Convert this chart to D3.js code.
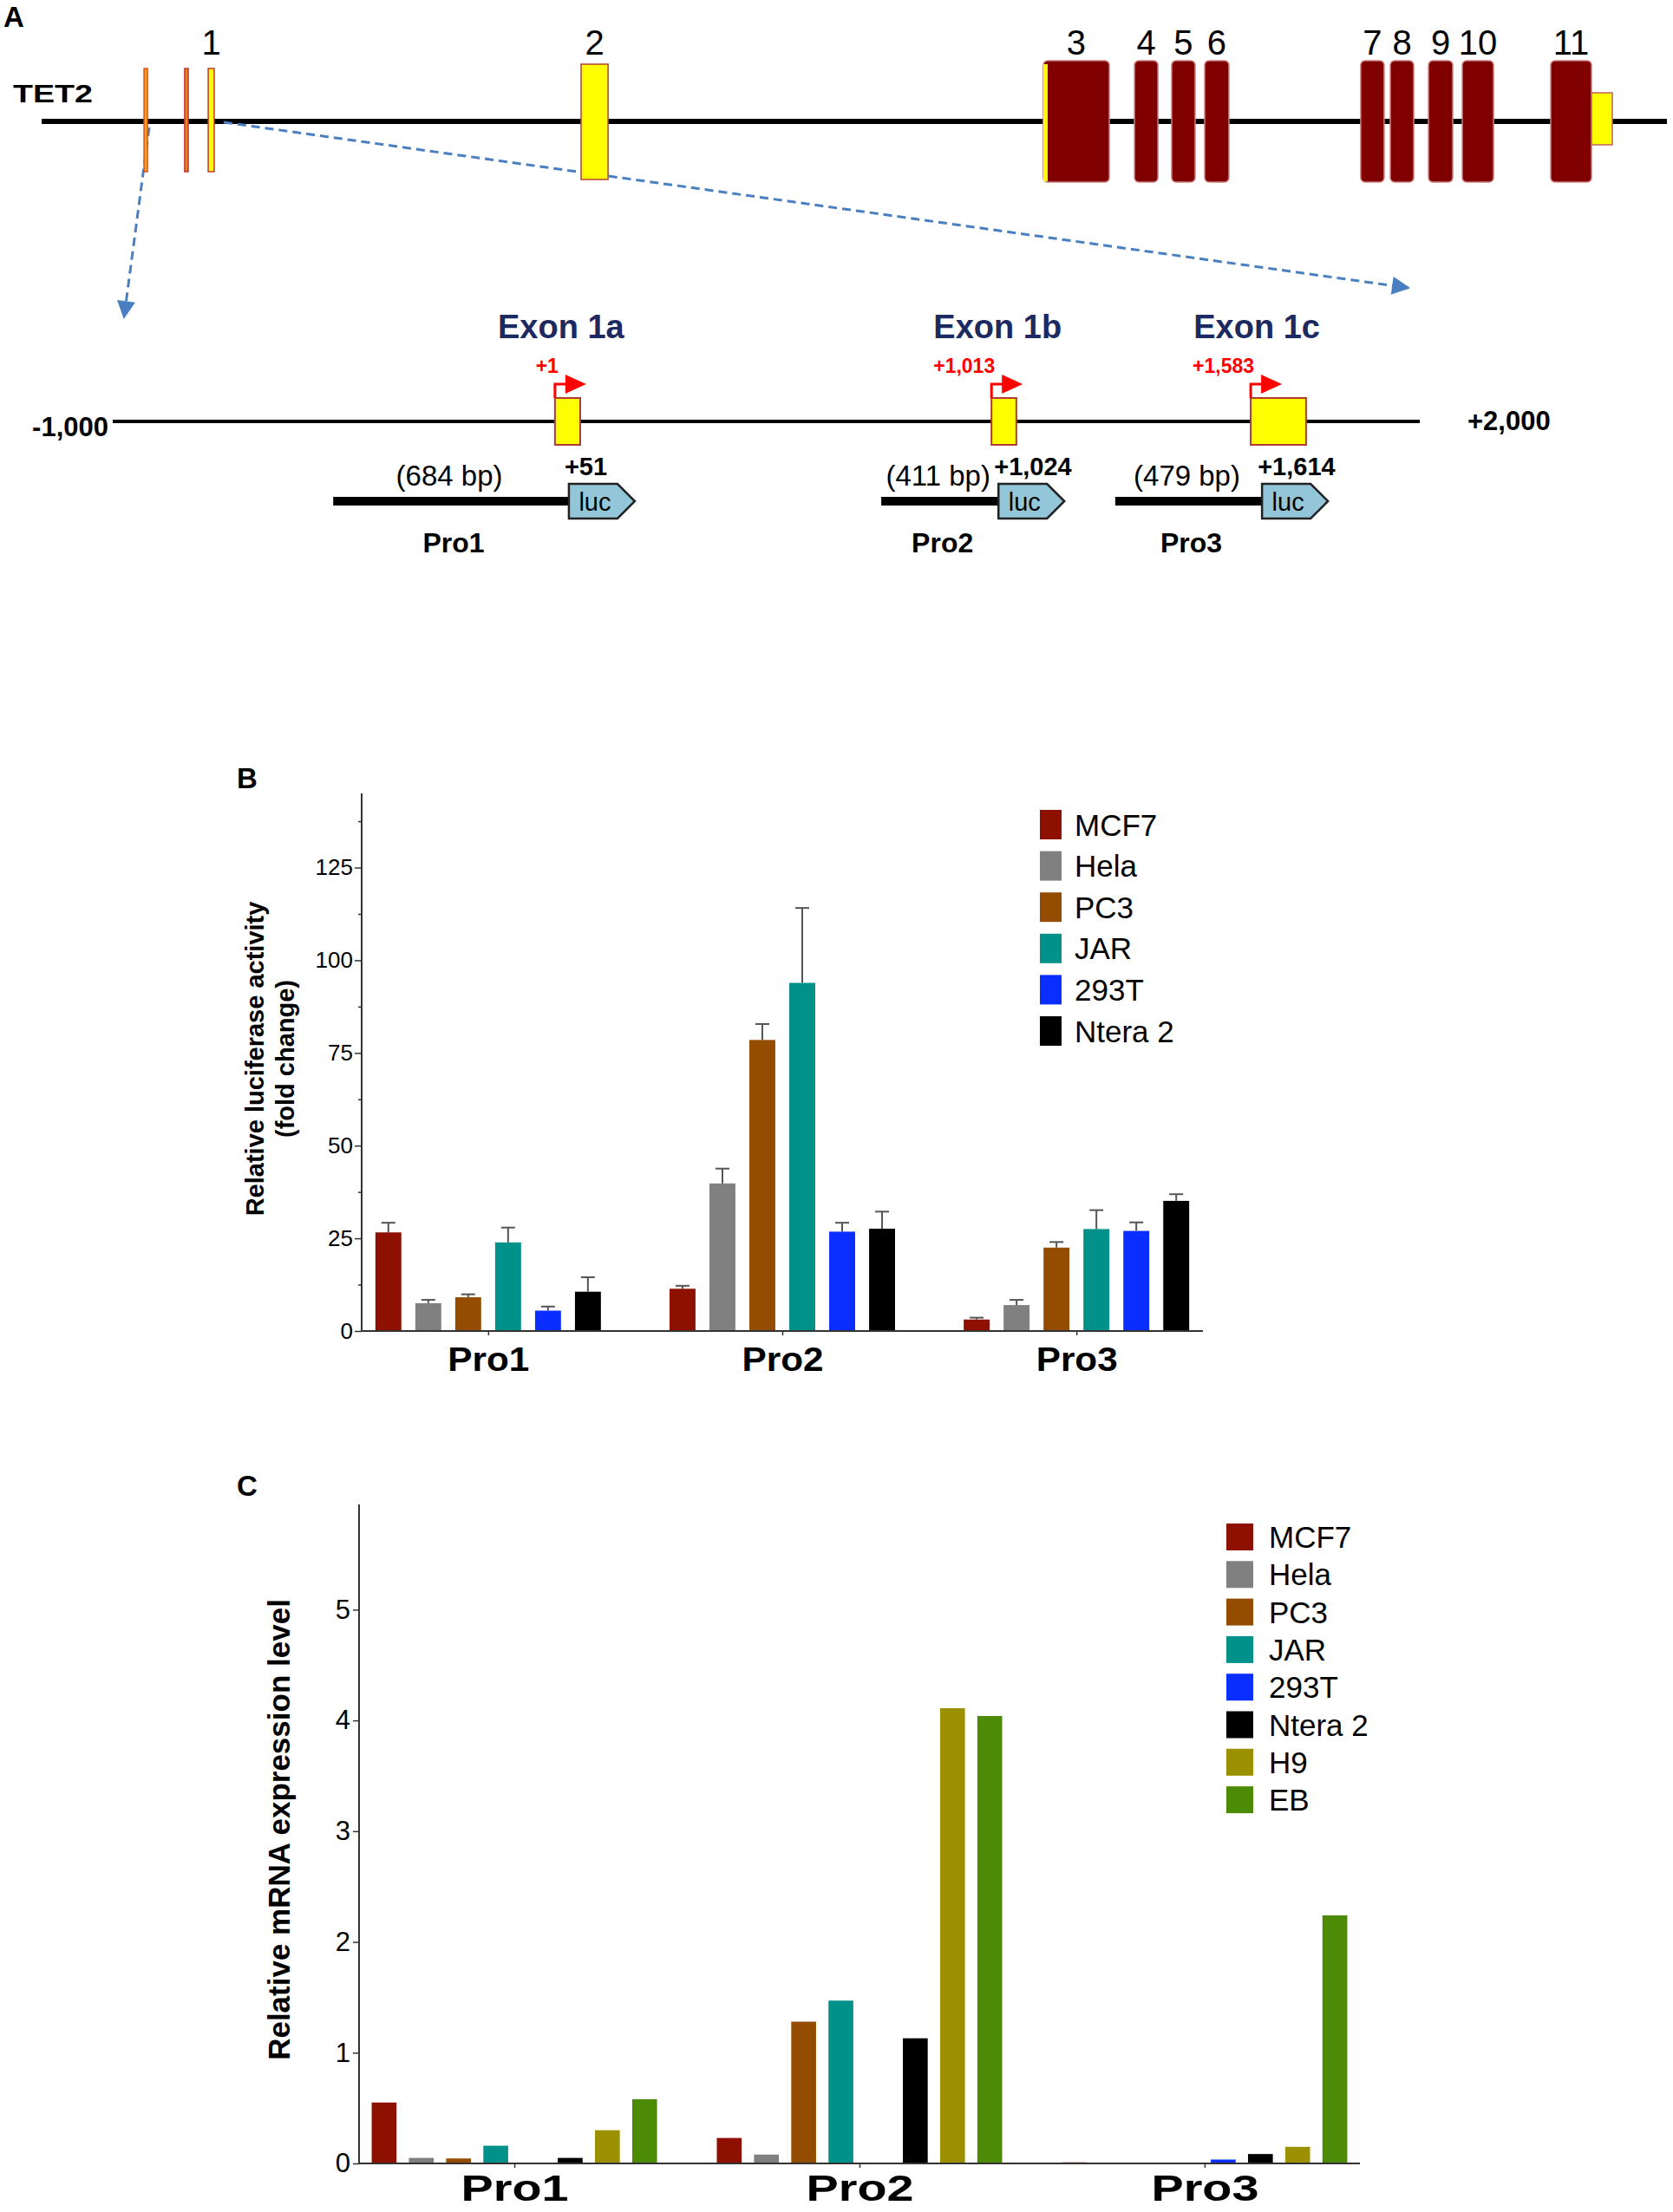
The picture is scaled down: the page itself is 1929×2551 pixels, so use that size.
<!DOCTYPE html>
<html>
<head>
<meta charset="utf-8">
<script src="https://cdn.jsdelivr.net/npm/d3@7"></script>
<style>
  body { margin: 0; background: #fff; }
  svg { display: block; }
  text { font-family: "Liberation Sans", Arial, sans-serif; }
</style>
</head>
<body>
<svg id="fig" width="1929" height="2551"></svg>
<script>
"use strict";

// ---- data ----
// TET2 gene structure, schematic position along the gene (0-100)
// [exon label, start, end, kind]
const geneParts = [
  ["1", 6.30, 6.51, "ex1a"], ["1", 8.80, 9.02, "ex1b"], ["1", 10.25, 10.62, "ex1c"],
  ["2", 33.19, 34.85, "utr"],
  ["3", 61.63, 65.69, "cds"], ["4", 67.24, 68.68, "cds"], ["5", 69.53, 70.97, "cds"],
  ["6", 71.56, 73.05, "cds"], ["7", 81.16, 82.60, "cds"], ["8", 82.98, 84.42, "cds"],
  ["9", 85.33, 86.82, "cds"], ["10", 87.41, 89.33, "cds"], ["11", 92.85, 95.36, "cds"],
  ["11", 95.36, 96.64, "utr3"], ["3", 61.63, 61.90, "strip"]
];

// promoter region (bp, drawn schematically from -1,000 to +2,000)
const altExonNames = ["Exon 1a", "Exon 1b", "Exon 1c"];
const altExonTss = ["+1", "+1,013", "+1,583"];
const altExonSpan = [[15, 73], [1017, 1074], [1612, 1739]];

const constructNames = ["Pro1", "Pro2", "Pro3"];
const constructSizes = ["(684 bp)", "(411 bp)", "(479 bp)"];
const constructEnds = ["+51", "+1,024", "+1,614"];
const constructSpan = [[-494, 47], [764, 1033], [1301, 1638]];

// panel B: relative luciferase activity (fold change), mean and SEM
const promoters = ["Pro1", "Pro2", "Pro3"];
const cellsB = ["MCF7", "Hela", "PC3", "JAR", "293T", "Ntera 2"];
const lucMean = [
  [26.6, 11.4, 3.1],   // MCF7
  [7.5, 39.8, 7.0],    // Hela
  [9.1, 78.5, 22.5],   // PC3
  [23.9, 93.9, 27.5],  // JAR
  [5.5, 26.8, 27.0],   // 293T
  [10.6, 27.6, 35.1]   // Ntera 2
];
const lucSem = [
  [2.6, 0.8, 0.5],
  [0.9, 4.0, 1.4],
  [0.8, 4.3, 1.5],
  [4.0, 20.2, 5.1],
  [1.1, 2.4, 2.3],
  [3.9, 4.6, 1.8]
];
const lucTicks = [0, 25, 50, 75, 100, 125];

// panel C: relative mRNA expression level
const cellsC = ["MCF7", "Hela", "PC3", "JAR", "293T", "Ntera 2", "H9", "EB"];
const mrnaLevel = [
  [0.55, 0.23, 0.01],  // MCF7
  [0.05, 0.08, 0],     // Hela
  [0.045, 1.28, 0],    // PC3
  [0.16, 1.47, 0],     // JAR
  [0, 0, 0.035],       // 293T
  [0.05, 1.13, 0.085], // Ntera 2
  [0.30, 4.11, 0.15],  // H9
  [0.58, 4.04, 2.24]   // EB
];
const mrnaTicks = [0, 1, 2, 3, 4, 5];

const cellColor = {
  "MCF7": "#8e1000", "Hela": "#808080", "PC3": "#944d00", "JAR": "#00918b",
  "293T": "#0a2eff", "Ntera 2": "#000000", "H9": "#9a9000", "EB": "#4d8a05"
};

const svg = d3.select("#fig");
svg.append("rect").attr("width", 1929).attr("height", 2551).attr("fill", "#fff");

function panelLetter(t, x, y) {
  svg.append("text").attr("x", x).attr("y", y)
    .attr("font-size", 33).attr("font-weight", "bold").text(t);
}

// ---- panel A ----
panelLetter("A", 4, 31);
const gA = svg.append("g");
const gx = d3.scaleLinear().domain([0, 100]).range([48, 1922]);

gA.append("text").attr("x", 15).attr("y", 118)
  .attr("font-size", 30).attr("font-weight", "bold")
  .attr("textLength", 92).attr("lengthAdjust", "spacingAndGlyphs").text("TET2");

gA.append("line").attr("x1", gx(0)).attr("x2", gx(100))
  .attr("y1", 140).attr("y2", 140).attr("stroke", "#000").attr("stroke-width", 6);

// dashed zoom lines
const defs = svg.append("defs");
defs.append("marker").attr("id", "blueArrow")
  .attr("viewBox", "0 0 10 10").attr("refX", 9).attr("refY", 5)
  .attr("markerWidth", 9).attr("markerHeight", 7).attr("markerUnits", "strokeWidth")
  .attr("orient", "auto")
  .append("path").attr("d", "M0,0L10,5L0,10Z").attr("fill", "#4a7fc1");

gA.append("line").attr("x1", 258).attr("y1", 141).attr("x2", 1624).attr("y2", 332)
  .attr("stroke", "#4a7fc1").attr("stroke-width", 3).attr("stroke-dasharray", "10,6")
  .attr("marker-end", "url(#blueArrow)");
gA.append("line").attr("x1", 172).attr("y1", 147).attr("x2", 143).attr("y2", 366)
  .attr("stroke", "#4a7fc1").attr("stroke-width", 3).attr("stroke-dasharray", "10,6")
  .attr("marker-end", "url(#blueArrow)");

const partStyle = {
  ex1a: { y: 79, h: 119, fill: "#f7a31c", stroke: "#d9531e", rx: 0 },
  ex1b: { y: 79, h: 119, fill: "#e8802a", stroke: "#c0392b", rx: 0 },
  ex1c: { y: 79, h: 119, fill: "#ffff00", stroke: "#c0392b", rx: 0 },
  utr:  { y: 74, h: 133, fill: "#ffff00", stroke: "#b84030", rx: 0 },
  cds:  { y: 70, h: 140, fill: "#800000", stroke: "#c88080", rx: 5 },
  utr3: { y: 107, h: 60, fill: "#ffff00", stroke: "#c06060", rx: 0 },
  strip: { y: 74, h: 135, fill: "#ffff00", stroke: "none", rx: 0 }
};

gA.selectAll("rect.exon").data(geneParts).join("rect").attr("class", "exon")
  .attr("x", d => gx(d[1])).attr("width", d => gx(d[2]) - gx(d[1]))
  .attr("y", d => partStyle[d[3]].y).attr("height", d => partStyle[d[3]].h)
  .attr("rx", d => partStyle[d[3]].rx)
  .attr("fill", d => partStyle[d[3]].fill).attr("stroke", d => partStyle[d[3]].stroke)
  .attr("stroke-width", 1.5);

// exon numbers over the last part of each exon
const exonLabels = d3.rollups(geneParts.filter(d => d[3] !== "strip" && d[3] !== "utr3"),
  v => v[v.length - 1], d => d[0]).map(d => d[1]);
gA.selectAll("text.exnum").data(exonLabels).join("text").attr("class", "exnum")
  .attr("x", d => gx((d[1] + d[2]) / 2)).attr("y", 63)
  .attr("text-anchor", "middle").attr("font-size", 40).text(d => d[0]);

// promoter region
const px = d3.scaleLinear().domain([-1000, 2000]).range([130, 1637]);
const lineY = 486;
gA.append("line").attr("x1", px(-1000)).attr("x2", px(2000))
  .attr("y1", lineY).attr("y2", lineY).attr("stroke", "#000").attr("stroke-width", 4);
gA.append("text").attr("x", px(-1000) - 5).attr("y", lineY + 17).attr("text-anchor", "end")
  .attr("font-size", 31).attr("font-weight", "bold").text("-1,000");
gA.append("text").attr("x", 1692).attr("y", lineY + 10)
  .attr("font-size", 31).attr("font-weight", "bold").text("+2,000");

altExonNames.forEach((name, i) => {
  const [s, e] = altExonSpan[i];
  const x0 = px(s), x1 = px(e);
  gA.append("rect").attr("x", x0).attr("y", lineY - 27).attr("width", x1 - x0).attr("height", 54)
    .attr("fill", "#ffff00").attr("stroke", "#b03a2e").attr("stroke-width", 2);
  // TSS arrow
  gA.append("path").attr("d", `M${x0},${lineY - 27}V${lineY - 43}H${x0 + 13}`)
    .attr("fill", "none").attr("stroke", "#ff0000").attr("stroke-width", 3);
  gA.append("path").attr("d", `M${x0 + 12},${lineY - 54}L${x0 + 36},${lineY - 43}L${x0 + 12},${lineY - 32}Z`)
    .attr("fill", "#ff0000");
  gA.append("text").attr("x", x0 + 4).attr("y", lineY - 56).attr("text-anchor", "end")
    .attr("font-size", 23).attr("font-weight", "bold").attr("fill", "#ff0000").text(altExonTss[i]);
  gA.append("text").attr("x", x0 + 7).attr("y", 390).attr("text-anchor", "middle")
    .attr("font-size", 38).attr("font-weight", "bold").attr("fill", "#1b2a63").text(name);
});

constructNames.forEach((name, i) => {
  const [s, e] = constructSpan[i];
  const x0 = px(s), x1 = px(e), cy = 578;
  gA.append("line").attr("x1", x0).attr("x2", x1).attr("y1", cy).attr("y2", cy)
    .attr("stroke", "#000").attr("stroke-width", 10);
  gA.append("path").attr("d", `M${x1},${cy - 20}H${x1 + 56}L${x1 + 76},${cy}L${x1 + 56},${cy + 20}H${x1}Z`)
    .attr("fill", "#93c6d8").attr("stroke", "#222").attr("stroke-width", 2.5);
  gA.append("text").attr("x", x1 + 30).attr("y", cy + 11).attr("text-anchor", "middle")
    .attr("font-size", 29).text("luc");
  gA.append("text").attr("x", (x0 + x1) / 2 - 2).attr("y", 560).attr("text-anchor", "middle")
    .attr("font-size", 33).text(constructSizes[i]);
  gA.append("text").attr("x", x1 - 5).attr("y", 548)
    .attr("font-size", 29).attr("font-weight", "bold").text(constructEnds[i]);
  gA.append("text").attr("x", (x0 + x1) / 2 + 3).attr("y", 637).attr("text-anchor", "middle")
    .attr("font-size", 32).attr("font-weight", "bold").text(name);
});

// ---- bar chart helper ----
function barChart(o) {
  const g = svg.append("g");
  const y = d3.scaleLinear().domain(o.yDomain).range([o.bottom, o.top]);
  const x = d3.scalePoint().domain(promoters).range([o.left, o.right]).padding(o.outerPad);
  const xi = d3.scaleBand().domain(o.series).range([-o.groupHalf, o.groupHalf])
    .paddingInner(o.innerPad).paddingOuter(0);

  // bars
  const rows = [];
  o.series.forEach((s, si) => promoters.forEach((p, pi) => {
    rows.push({ s, p, v: o.values[si][pi], e: o.errors ? o.errors[si][pi] : 0 });
  }));

  g.selectAll("rect.bar").data(rows.filter(d => d.v > 0)).join("rect").attr("class", "bar")
    .attr("x", d => x(d.p) + xi(d.s)).attr("width", xi.bandwidth())
    .attr("y", d => y(d.v)).attr("height", d => y(0) - y(d.v))
    .attr("fill", d => cellColor[d.s]);

  if (o.errors) {
    const eg = g.selectAll("g.err").data(rows).join("g").attr("class", "err")
      .attr("stroke", "#555").attr("stroke-width", 2);
    eg.append("line")
      .attr("x1", d => x(d.p) + xi(d.s) + xi.bandwidth() / 2)
      .attr("x2", d => x(d.p) + xi(d.s) + xi.bandwidth() / 2)
      .attr("y1", d => y(d.v)).attr("y2", d => y(d.v + d.e));
    eg.append("line")
      .attr("x1", d => x(d.p) + xi(d.s) + xi.bandwidth() / 2 - 8)
      .attr("x2", d => x(d.p) + xi(d.s) + xi.bandwidth() / 2 + 8)
      .attr("y1", d => y(d.v + d.e)).attr("y2", d => y(d.v + d.e));
  }

  // y axis
  const ya = g.append("g").attr("transform", `translate(${o.left},0)`)
    .call(d3.axisLeft(y).tickValues(o.ticks).tickSize(o.tickSize).tickSizeOuter(0)
      .tickPadding(o.tickPad).tickFormat(d3.format("d")));
  ya.select(".domain").attr("stroke", "#333").attr("stroke-width", 2);
  ya.selectAll(".tick line").attr("stroke", "#333").attr("stroke-width", 1.5);
  ya.selectAll(".tick text").attr("font-size", o.tickFont).attr("fill", "#000")
    .attr("font-family", "Liberation Sans, Arial, sans-serif");
  if (o.minorTicks) {
    g.append("g").attr("transform", `translate(${o.left},0)`)
      .call(d3.axisLeft(y).tickValues(o.minorTicks).tickSize(4).tickFormat(""))
      .call(a => a.select(".domain").remove())
      .selectAll(".tick line").attr("stroke", "#333").attr("stroke-width", 1.5);
  }
  // make the y axis reach the top of the domain
  ya.select(".domain").attr("d", `M0,${o.bottom}V${o.top}`);

  // x axis
  const xa = g.append("g").attr("transform", `translate(0,${o.bottom})`)
    .call(d3.axisBottom(x).tickSize(5).tickSizeOuter(0).tickPadding(o.xPad));
  xa.select(".domain").attr("stroke", "#333").attr("stroke-width", 2)
    .attr("d", `M${o.left},0H${o.right}`);
  xa.selectAll(".tick line").attr("stroke", "#333").attr("stroke-width", 1.5);
  xa.selectAll(".tick text").attr("font-size", o.xFont).attr("font-weight", "bold")
    .attr("fill", "#000").attr("font-family", "Liberation Sans, Arial, sans-serif")
    .attr("textLength", o.xLen).attr("lengthAdjust", "spacingAndGlyphs");

  // y title
  const yt = g.append("text").attr("transform", `translate(${o.titleX},${o.titleY}) rotate(-90)`)
    .attr("text-anchor", "middle").attr("font-size", o.titleFont).attr("font-weight", "bold");
  o.title.forEach((line, i) => {
    yt.append("tspan").attr("x", 0).attr("dy", i === 0 ? 0 : o.titleFont * 1.2).text(line);
  });

  // legend
  const lg = g.append("g");
  const item = lg.selectAll("g").data(o.series).join("g")
    .attr("transform", (d, i) => `translate(${o.legX},${o.legY + i * o.legStep})`);
  item.append("rect").attr("width", o.swW).attr("height", o.swH)
    .attr("fill", d => cellColor[d]);
  item.append("text").attr("x", o.legTextX).attr("y", o.swH / 2).attr("dy", "0.36em")
    .attr("font-size", 35).text(d => d);
}

// ---- panel B ----
panelLetter("B", 273, 909);
barChart({
  series: cellsB, values: lucMean, errors: lucSem,
  yDomain: [0, 145], ticks: lucTicks, minorTicks: d3.range(12.5, 145, 25),
  top: 915, bottom: 1535, left: 417, right: 1387, outerPad: 0.43,
  groupHalf: 130, innerPad: 0.35,
  tickSize: 8, tickPad: 2, tickFont: 26, xFont: 39, xPad: 13, xLen: 94,
  title: ["Relative luciferase activity", "(fold change)"], titleFont: 29,
  titleX: 304, titleY: 1221,
  legX: 1199, legY: 934, legStep: 47.6, swW: 25, swH: 34, legTextX: 40
});

// ---- panel C ----
panelLetter("C", 273, 1725);
barChart({
  series: cellsC, values: mrnaLevel, errors: null,
  yDomain: [0, 5.95], ticks: mrnaTicks, minorTicks: null,
  top: 1735, bottom: 2495, left: 414, right: 1568, outerPad: 0.45,
  groupHalf: 164.5, innerPad: 0.333,
  tickSize: 7, tickPad: 3, tickFont: 31, xFont: 42, xPad: 8, xLen: 124,
  title: ["Relative mRNA expression level"], titleFont: 35,
  titleX: 334, titleY: 2110,
  legX: 1414, legY: 1757, legStep: 43.3, swW: 31, swH: 31, legTextX: 49
});
</script>
</body>
</html>
